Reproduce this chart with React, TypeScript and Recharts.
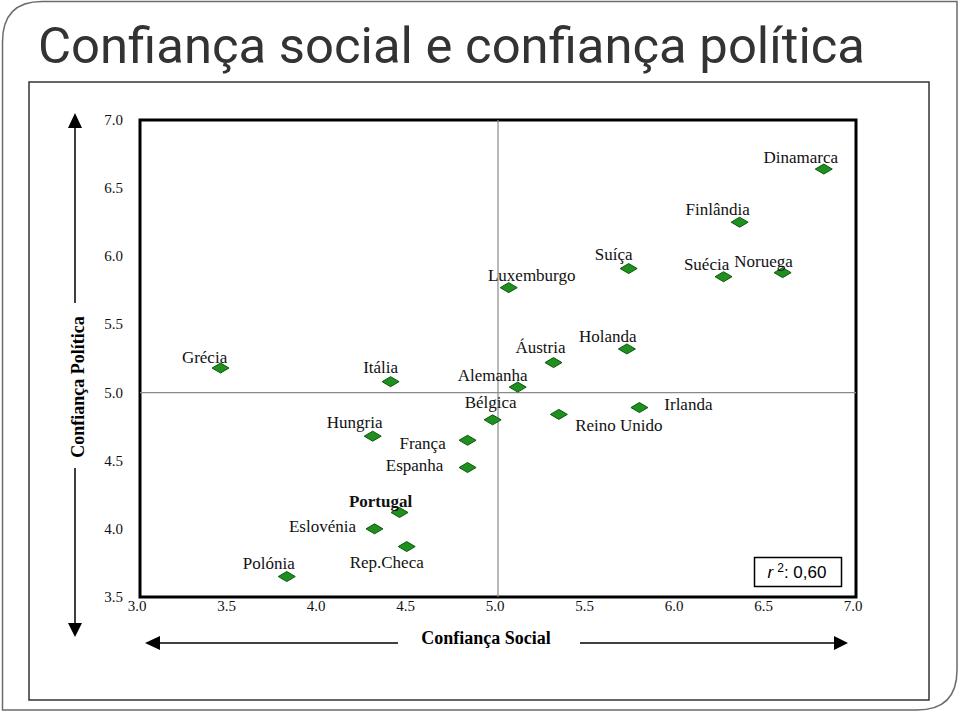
import React from "react";
import {
  ScatterChart,
  Scatter,
  XAxis,
  YAxis,
  ReferenceLine,
  ReferenceArea,
} from "recharts";

// country names, social trust (x), political trust (y)
const COUNTRIES = [
  "Dinamarca", "Finlândia", "Suíça", "Suécia", "Noruega", "Luxemburgo",
  "Holanda", "Áustria", "Grécia", "Itália", "Alemanha", "Irlanda",
  "Reino Unido", "Bélgica", "Hungria", "França", "Espanha", "Portugal",
  "Eslovénia", "Rep.Checa", "Polónia",
];
const SOCIAL = [
  6.82, 6.35, 5.73, 6.26, 6.59, 5.06,
  5.72, 5.31, 3.45, 4.4, 5.11, 5.79,
  5.34, 4.97, 4.3, 4.83, 4.83, 4.45,
  4.31, 4.49, 3.82,
];
const POLITICAL = [
  6.64, 6.25, 5.91, 5.85, 5.88, 5.77,
  5.32, 5.22, 5.18, 5.08, 5.04, 4.89,
  4.84, 4.8, 4.68, 4.65, 4.45, 4.12,
  4.0, 3.87, 3.65,
];
const X_TICKS = [3, 3.5, 4, 4.5, 5, 5.5, 6, 6.5, 7];
const Y_TICKS = [3.5, 4, 4.5, 5, 5.5, 6, 6.5, 7];

// label offset from the marker centre (px)
const LABEL_OFFSET: Record<string, [number, number]> = {
  Dinamarca: [-23, -12],
  "Finlândia": [-22, -13],
  "Suíça": [-15, -14],
  "Suécia": [-17, -12],
  Noruega: [-19, -11],
  Luxemburgo: [23, -12],
  Holanda: [-19, -12],
  "Áustria": [-13, -15],
  "Grécia": [-16, -11],
  "Itália": [-10, -14],
  Alemanha: [-25, -12],
  Irlanda: [49, -3],
  "Reino Unido": [60, 11],
  "Bélgica": [-2, -17],
  Hungria: [-18, -14],
  "França": [-45, 3],
  Espanha: [-53, -2],
  Portugal: [-19, -11],
  "Eslovénia": [-52, -2],
  "Rep.Checa": [-20, 16],
  "Polónia": [-18, -13],
};

const data = COUNTRIES.map((name, i) => ({ name, x: SOCIAL[i], y: POLITICAL[i] }));

const SERIF = "'Liberation Serif', 'DejaVu Serif', serif";

function Diamond(props: any) {
  const { cx, cy, payload } = props;
  const [dx, dy] = LABEL_OFFSET[payload.name] ?? [0, -12];
  const bold = payload.name === "Portugal";
  return (
    <g>
      <polygon
        points={`${cx - 8.5},${cy} ${cx},${cy - 5} ${cx + 8.5},${cy} ${cx},${cy + 5}`}
        fill="#1f8f1f"
        stroke="#0b5a0b"
        strokeWidth={1}
      />
      <text
        x={cx + dx}
        y={cy + dy}
        textAnchor="middle"
        dominantBaseline="central"
        fontFamily={SERIF}
        fontSize={17}
        fontWeight={bold ? 700 : 400}
        fill="#111"
      >
        {payload.name}
      </text>
    </g>
  );
}

function XTick(props: any) {
  const { x, y, payload } = props;
  return (
    <text x={x - 3} y={y + 10} textAnchor="middle" fontFamily={SERIF} fontSize={15} fill="#111">
      {Number(payload.value).toFixed(1)}
    </text>
  );
}

function YTick(props: any) {
  const { x, y, payload } = props;
  return (
    <text x={x} y={y + 5} textAnchor="end" fontFamily={SERIF} fontSize={15} fill="#111">
      {Number(payload.value).toFixed(1)}
    </text>
  );
}

function Decor() {
  return (
    <svg
      width={960}
      height={712}
      style={{ position: "absolute", left: 0, top: 0 }}
    >
      {/* outer snip-rounded frame */}
      <path
        d="M42,1.5 H957 V670 Q957,710 917,710 H2.5 V42 Q2.5,1.5 42,1.5 Z"
        fill="#fff"
        stroke="#6b6b6b"
        strokeWidth={1.5}
      />
      <text
        x={38}
        y={63}
        fontFamily="Roboto, 'Open Sans', sans-serif"
        fontSize={50}
        fill="#333"
        textLength={827}
        lengthAdjust="spacingAndGlyphs"
      >
        Confiança social e confiança política
      </text>
      <rect x={29} y={82} width={900} height={618} fill="none" stroke="#333" strokeWidth={1.5} />

      {/* vertical arrow */}
      <line x1={75} y1={126} x2={75} y2={303} stroke="#000" strokeWidth={1.5} />
      <line x1={75} y1={468} x2={75} y2={626} stroke="#000" strokeWidth={1.5} />
      <polygon points="75,113 68,128 82,128" fill="#000" />
      <polygon points="75,637 68,623 82,623" fill="#000" />
      <text
        transform="translate(84,387) rotate(-90)"
        textAnchor="middle"
        fontFamily={SERIF}
        fontSize={18}
        fontWeight={700}
        fill="#000"
      >
        Confiança Política
      </text>

      {/* horizontal arrow */}
      <line x1={158} y1={643} x2={398} y2={643} stroke="#000" strokeWidth={1.5} />
      <line x1={580} y1={643} x2={836} y2={643} stroke="#000" strokeWidth={1.5} />
      <polygon points="145,643 160,636 160,650" fill="#000" />
      <polygon points="848,643 834,636 834,650" fill="#000" />
      <text
        x={486}
        y={644}
        textAnchor="middle"
        fontFamily={SERIF}
        fontSize={18}
        fontWeight={700}
        fill="#000"
      >
        Confiança Social
      </text>
    </svg>
  );
}

export default function App() {
  return (
    <div style={{ position: "absolute", left: 0, top: 0, width: 960, height: 712 }}>
      <Decor />
      <div style={{ position: "absolute", left: 0, top: 0 }}>
        <ScatterChart
          width={960}
          height={712}
          margin={{ top: 120, right: 104, bottom: 85, left: 110 }}
        >
          <XAxis
            type="number"
            dataKey="x"
            domain={[3, 7]}
            ticks={X_TICKS}
            axisLine={false}
            tickLine={false}
            tickSize={0}
            tickMargin={4}
            height={30}
            tick={<XTick />}
            allowDataOverflow
          />
          <YAxis
            type="number"
            dataKey="y"
            domain={[3.5, 7]}
            ticks={Y_TICKS}
            axisLine={false}
            tickLine={false}
            tickSize={0}
            tickMargin={17}
            width={30}
            tick={<YTick />}
            allowDataOverflow
          />
          <ReferenceLine x={5} stroke="#8a8a8a" strokeWidth={1.2} />
          <ReferenceLine y={5} stroke="#8a8a8a" strokeWidth={1.2} />
          <ReferenceArea
            x1={3}
            x2={7}
            y1={3.5}
            y2={7}
            fill="none"
            fillOpacity={0}
            stroke="#000"
            strokeWidth={3}
            ifOverflow="visible"
          />
          <Scatter data={data} shape={Diamond} isAnimationActive={false} />
        </ScatterChart>
      </div>
      <svg
        width={960}
        height={712}
        style={{ position: "absolute", left: 0, top: 0, pointerEvents: "none" }}
      >
        <rect x={754.5} y={557.5} width={87} height={29} fill="#fff" stroke="#000" strokeWidth={1.5} />
        <text
          x={797}
          y={578}
          textAnchor="middle"
          fontFamily="'Liberation Sans', Arial, sans-serif"
          fontSize={17}
          fill="#000"
        >
          <tspan fontStyle="italic">r</tspan>
          <tspan dx={4} dy={-6} fontSize={12}>2</tspan>
          <tspan dy={6}>: 0,60</tspan>
        </text>
      </svg>
    </div>
  );
}
